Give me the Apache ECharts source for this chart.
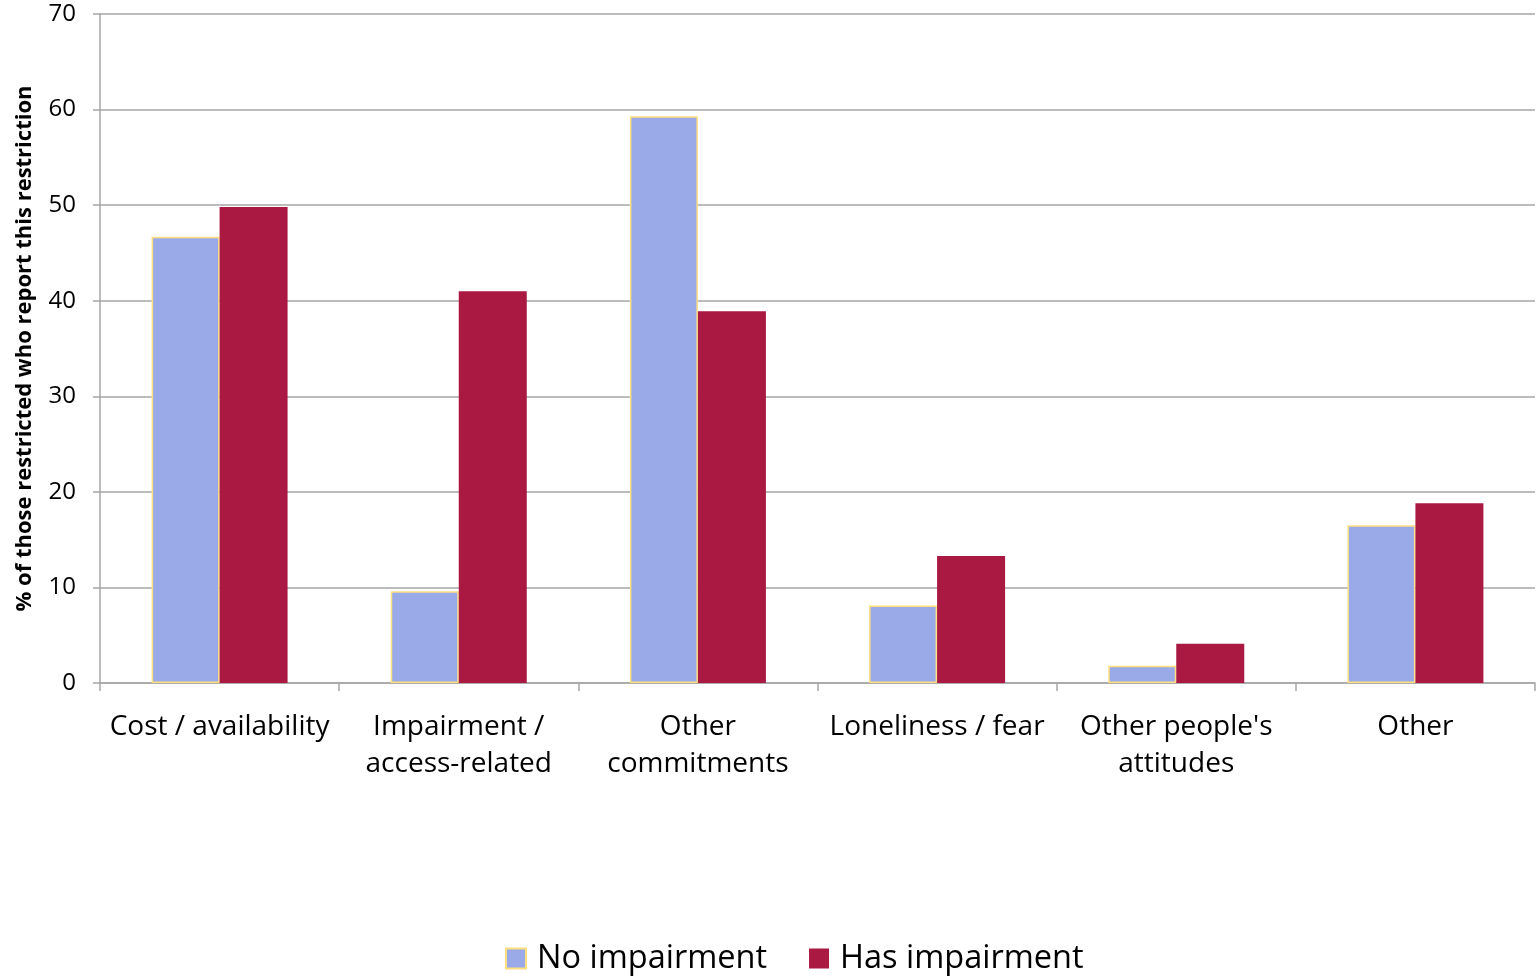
<!DOCTYPE html>
<html>
<head>
<meta charset="utf-8">
<script src="https://cdn.jsdelivr.net/npm/echarts@6/dist/echarts.min.js"></script>
<style>
  html, body { margin: 0; padding: 0; background: #fff; }
  #chart { width: 1537px; height: 980px; }
</style>
</head>
<body>
<div id="chart"></div>
<script>
// Restriction categories and percentages per group
const categories = [
  'Cost / availability',
  'Impairment /\naccess-related',
  'Other\ncommitments',
  'Loneliness / fear',
  "Other people's\nattitudes",
  'Other'
];
const noImpairment = [46.7, 9.6, 59.3, 8.1, 1.8, 16.5];
const hasImpairment = [49.8, 41.0, 38.9, 13.3, 4.1, 18.8];
const yTicks = { min: 0, max: 70, interval: 10 };

const FONT = '"Open Sans", "Noto Sans", sans-serif';
const chart = echarts.init(document.getElementById('chart'));

chart.setOption({
  animation: false,
  textStyle: { fontFamily: FONT },
  grid: { left: 100, right: 2, top: 14, bottom: 297, containLabel: false },
  legend: {
    bottom: 0,
    left: 500,
    icon: 'rect',
    itemWidth: 20,
    itemHeight: 20,
    itemGap: 42,
    textStyle: { fontSize: 32.5, color: '#000', fontFamily: FONT, padding: [0, 0, 0, 6] },
    data: ['No impairment', 'Has impairment']
  },
  xAxis: {
    type: 'category',
    data: categories,
    axisLine: { lineStyle: { color: '#a6a6a6', width: 1.5 } },
    axisTick: { show: true, length: 8, alignWithLabel: false, lineStyle: { color: '#a6a6a6', width: 1.5 } },
    axisLabel: {
      interval: 0,
      fontSize: 28,
      color: '#000',
      margin: 26,
      lineHeight: 37,
      fontFamily: FONT
    }
  },
  yAxis: {
    type: 'value',
    min: yTicks.min,
    max: yTicks.max,
    interval: yTicks.interval,
    name: '% of those restricted who report this restriction',
    nameLocation: 'middle',
    nameGap: 64,
    nameTextStyle: { fontSize: 22, fontWeight: 'bold', color: '#000', fontFamily: FONT },
    axisLine: { show: true, lineStyle: { color: '#a6a6a6', width: 1.5 } },
    axisTick: { show: true, length: 7, lineStyle: { color: '#a6a6a6', width: 1.5 } },
    axisLabel: { fontSize: 24, color: '#000', margin: 24, fontFamily: FONT },
    splitLine: { lineStyle: { color: '#a6a6a6', width: 1.5 } }
  },
  series: [
    {
      name: 'No impairment',
      type: 'bar',
      data: noImpairment,
      barWidth: 68,
      barGap: '0%',
      itemStyle: { color: '#9aaae8', borderColor: '#ffdf80', borderWidth: 1.5 }
    },
    {
      name: 'Has impairment',
      type: 'bar',
      data: hasImpairment,
      barWidth: 68,
      barGap: '0%',
      itemStyle: { color: '#aa1942' }
    }
  ]
});
</script>
</body>
</html>
